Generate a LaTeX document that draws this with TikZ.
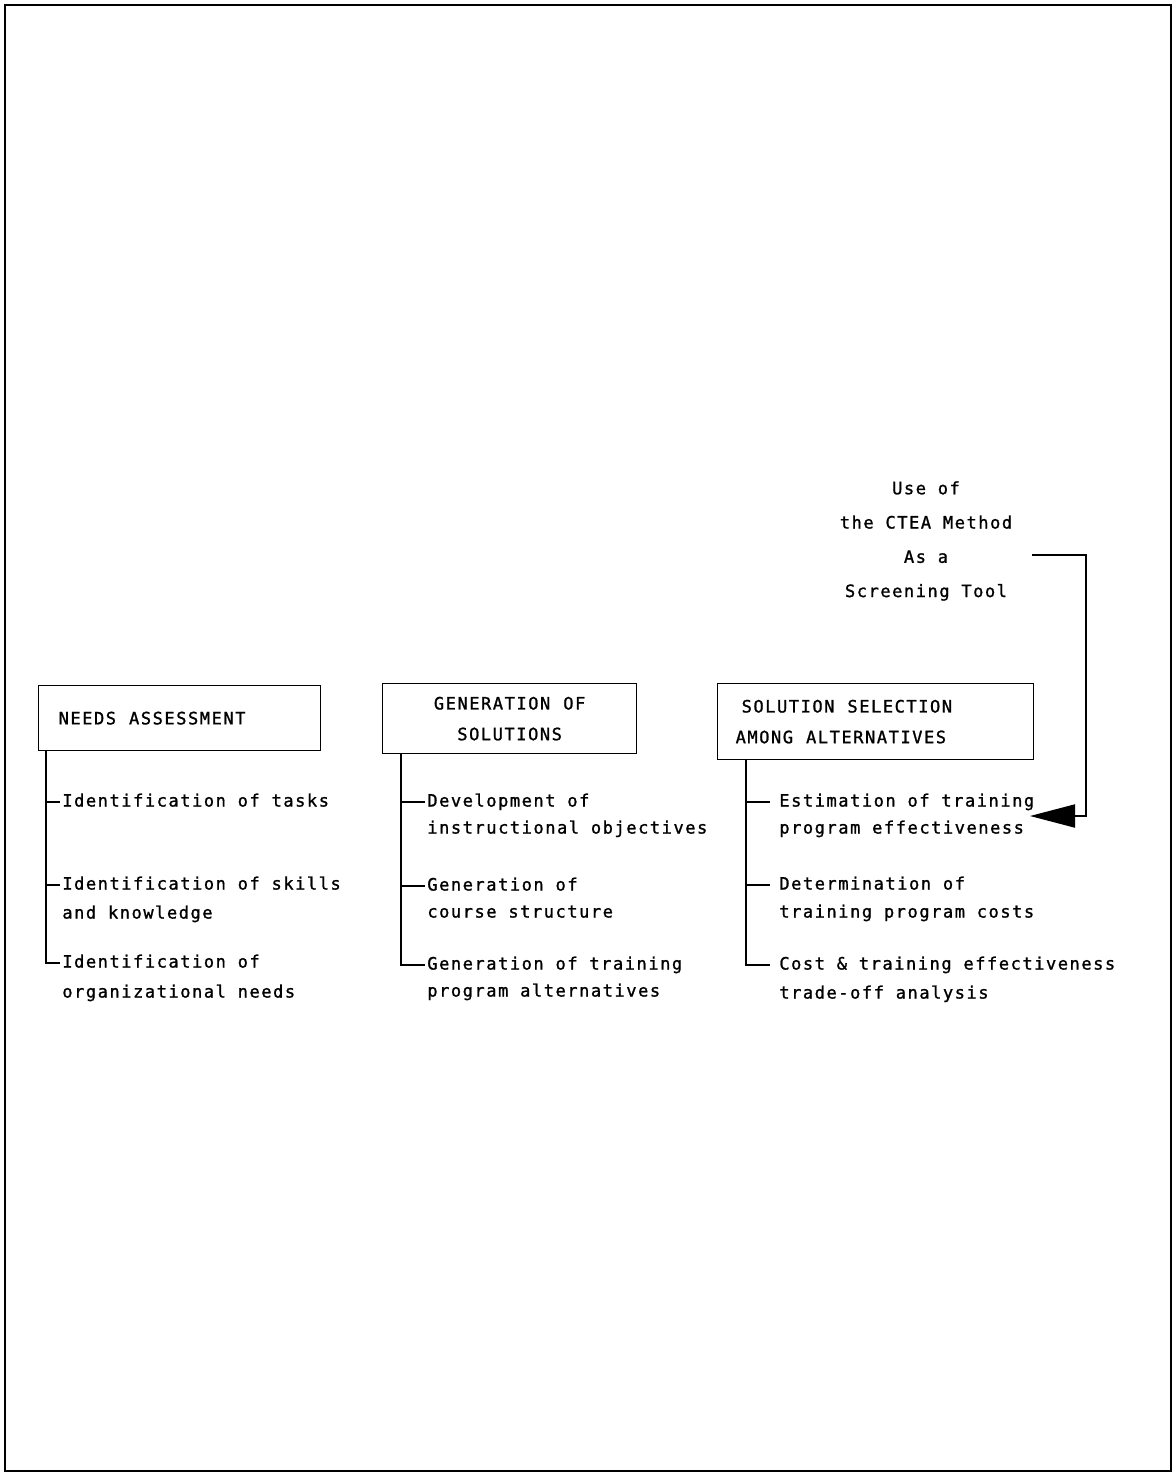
\documentclass[tikz,border=0pt]{standalone}
\usepackage{fontspec}
\usepackage{tikz}
\usetikzlibrary{arrows.meta}
\newfontfamily\plotfont[LetterSpace=9, FakeBold=1.2]{DejaVu Sans Mono}

\begin{document}
\begin{tikzpicture}[x=0.02cm, y=-0.02cm,
    every node/.style={font=\plotfont\fontsize{9.7}{12}\selectfont},
    stage/.style={draw, line width=0.75pt, anchor=north west, inner ysep=0pt,
        font=\plotfont\fontsize{9.7}{17.5}\selectfont,
        execute at begin node={\spaceskip=0.26cm\relax}},
    task/.style={anchor=west, inner xsep=0.04cm, inner ysep=0pt,
        text height=1.2ex, text depth=0pt},
    stem/.style={line width=0.6pt}]
    \useasboundingbox (0,0) rectangle (1174,1473);

    % Page frame
    \draw[line width=1.4pt] (5,5) rectangle (1171,1471);

    % Stage boxes
    \node[stage, align=left, inner xsep=0.4cm, text width=4.84cm,
        minimum height=1.3cm] (needs) at (38,685) {NEEDS ASSESSMENT};
    \node[stage, align=center, inner xsep=0.2cm, text width=4.68cm,
        minimum height=1.4cm] (gensol) at (382,683) {GENERATION OF\\SOLUTIONS};
    \node[stage, align=left, inner xsep=0.36cm, text width=5.6cm,
        minimum height=1.52cm] (select) at (717,683)
        {\hspace*{0.12cm}SOLUTION SELECTION\\AMONG ALTERNATIVES};

    % Needs assessment items
    \foreach \n/\y/\t in {nt1/802/{Identification of tasks},
        nt2/885/{Identification of skills}, nt2b/914/{and knowledge},
        nt3/963/{Identification of}, nt3b/993/{organizational needs}}
        \node[task] (\n) at (60,\y) {\t};

    % Generation of solutions items
    \foreach \n/\y/\t in {gt1/802/{Development of},
        gt1b/829/{instructional objectives},
        gt2/886/{Generation of}, gt2b/913/{course structure},
        gt3/965/{Generation of training}, gt3b/992/{program alternatives}}
        \node[task] (\n) at (425,\y) {\t};

    % Solution selection items
    \foreach \n/\y/\t in {st1/802/{Estimation of training},
        st1b/829/{program effectiveness},
        st2/885/{Determination of}, st2b/913/{training program costs},
        st3/965/{Cost \& training effectiveness}, st3b/994/{trade-off analysis}}
        \node[task, inner xsep=0.18cm] (\n) at (770,\y) {\t};

    % Stems and branches
    \coordinate (needs-stem) at ([xshift=0.16cm]needs.south west);
    \coordinate (gensol-stem) at ([xshift=0.38cm]gensol.south west);
    \coordinate (select-stem) at ([xshift=0.58cm]select.south west);
    \draw[stem] (needs-stem) |- (nt3.west);
    \draw[stem] (gensol-stem) |- (gt3.west);
    \draw[stem] (select-stem) |- (st3.west);
    \foreach \n in {nt1,nt2}
        \draw[stem] (needs-stem |- \n.west) -- (\n.west);
    \foreach \n in {gt1,gt2}
        \draw[stem] (gensol-stem |- \n.west) -- (\n.west);
    \foreach \n in {st1,st2}
        \draw[stem] (select-stem |- \n.west) -- (\n.west);

    % CTEA screening tool
    \node[align=center, font=\plotfont\fontsize{9.7}{19.5}\selectfont]
        (ctea) at (926,541) {Use of\\the CTEA Method\\As a\\Screening Tool};
    \coordinate (ctea-out) at (1032,555);
    \coordinate (effect-in) at (1030,816);
    \draw[line width=1.1pt, -{Triangle[length=0.9cm, width=0.46cm]}]
        (ctea-out) -- ++(54,0) |- (effect-in);
\end{tikzpicture}
\end{document}
